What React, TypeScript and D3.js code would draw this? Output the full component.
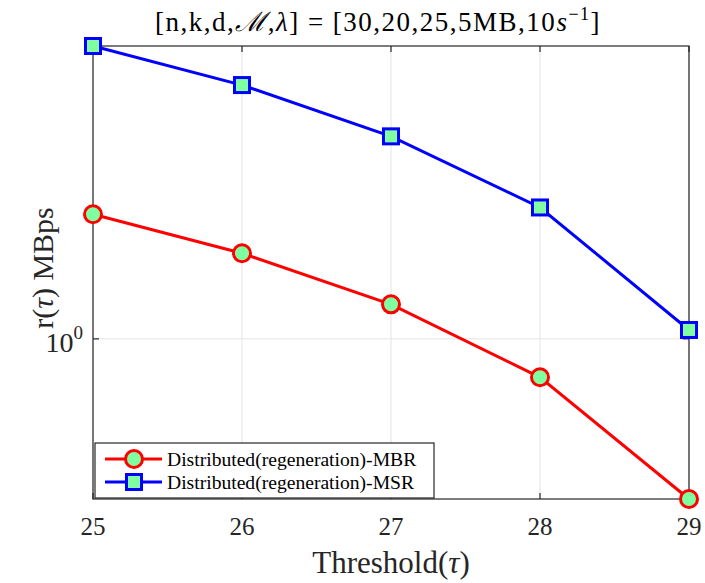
import React, { useEffect, useRef } from "react";
import * as d3 from "d3";

const thresholds = [25, 26, 27, 28, 29];
const mbr = [1.32, 1.21, 1.08, 0.918, 0.7];
const msr = [1.92, 1.76, 1.57, 1.34, 1.02];
const xTicks = [25, 26, 27, 28, 29];
const yTicks = [1];
const seriesNames = ["Distributed(regeneration)-MBR", "Distributed(regeneration)-MSR"];

const W = 705, H = 583;
const margin = { left: 93, right: 16, top: 46, bottom: 84 };
const FILL = "#80FFA0";
const FONT = "Times New Roman, serif";

export default function App() {
  const ref = useRef<SVGSVGElement>(null);

  useEffect(() => {
    const svg = d3.select(ref.current);
    svg.selectAll("*").remove();
    const x = d3.scaleLinear().domain([25, 29]).range([margin.left, W - margin.right]);
    const y = d3.scaleLog().domain([0.7, 1.92]).range([H - margin.bottom, margin.top]);
    const [x0, x1] = x.range();
    const [yb, yt] = y.range();

    svg.append("rect").attr("width", W).attr("height", H).attr("fill", "white");

    // grid
    const grid = svg.append("g").attr("stroke", "#e3e3e3").attr("stroke-width", 1);
    xTicks.forEach(t => grid.append("line").attr("x1", x(t)).attr("x2", x(t)).attr("y1", yb).attr("y2", yt));
    yTicks.forEach(t => grid.append("line").attr("x1", x0).attr("x2", x1).attr("y1", y(t)).attr("y2", y(t)));

    // box
    svg.append("rect").attr("x", x0).attr("y", yt).attr("width", x1 - x0).attr("height", yb - yt)
      .attr("fill", "none").attr("stroke", "#262626").attr("stroke-width", 1.2);

    const ax = svg.append("g").attr("stroke", "#262626").attr("stroke-width", 1.2);
    xTicks.forEach(t => {
      ax.append("line").attr("x1", x(t)).attr("x2", x(t)).attr("y1", yb).attr("y2", yb - 6);
      ax.append("line").attr("x1", x(t)).attr("x2", x(t)).attr("y1", yt).attr("y2", yt + 6);
    });
    yTicks.forEach(t => {
      ax.append("line").attr("x1", x0).attr("x2", x0 + 6).attr("y1", y(t)).attr("y2", y(t));
      ax.append("line").attr("x1", x1).attr("x2", x1 - 6).attr("y1", y(t)).attr("y2", y(t));
    });

    const txt = svg.append("g").attr("font-family", FONT).attr("fill", "#262626");
    xTicks.forEach(t => txt.append("text").attr("x", x(t)).attr("y", yb + 36)
      .attr("text-anchor", "middle").attr("font-size", 25).text(t));
    yTicks.forEach(t => {
      const tx = txt.append("text").attr("x", x0 - 10).attr("y", y(t) + 13)
        .attr("text-anchor", "end").attr("font-size", 28);
      tx.append("tspan").text("10");
      tx.append("tspan").attr("font-size", 19).attr("dy", -13).text("0");
    });

    const xl = txt.append("text").attr("x", (x0 + x1) / 2).attr("y", 573)
      .attr("text-anchor", "middle").attr("font-size", 31);
    xl.append("tspan").text("Threshold(");
    xl.append("tspan").attr("font-style", "italic").text("τ");
    xl.append("tspan").text(")");

    const yl = txt.append("text").attr("transform", `translate(53,268) rotate(-90)`)
      .attr("text-anchor", "middle").attr("font-size", 30);
    yl.append("tspan").text("r(");
    yl.append("tspan").attr("font-style", "italic").text("τ");
    yl.append("tspan").text(") MBps");

    const tl = txt.append("text").attr("x", 378).attr("y", 30.5).attr("text-anchor", "middle")
      .attr("font-size", 27).attr("letter-spacing", 1.5).attr("fill", "black");
    tl.append("tspan").text("[n,k,d,");
    tl.append("tspan").attr("font-style", "italic").text("ℳ");
    tl.append("tspan").text(",");
    tl.append("tspan").attr("font-style", "italic").text("λ");
    tl.append("tspan").text("] = [30,20,25,5MB,10");
    tl.append("tspan").attr("font-style", "italic").text("s");
    tl.append("tspan").attr("font-size", 18).attr("dy", -11).text("−1");
    tl.append("tspan").attr("dy", 11).text("]");

    const line = d3.line<number>().x((_, i) => x(thresholds[i])).y(d => y(d));
    const drawCircle = (g: any, cx: number, cy: number) =>
      g.append("circle").attr("cx", cx).attr("cy", cy).attr("r", 8.5)
        .attr("fill", FILL).attr("stroke", "#ff0000").attr("stroke-width", 3);
    const drawSquare = (g: any, cx: number, cy: number) =>
      g.append("rect").attr("x", cx - 7.5).attr("y", cy - 7.5).attr("width", 15).attr("height", 15)
        .attr("fill", FILL).attr("stroke", "#0000ff").attr("stroke-width", 3);

    const series = [
      { data: mbr, color: "#ff0000", marker: drawCircle },
      { data: msr, color: "#0000ff", marker: drawSquare },
    ];
    series.forEach(s => {
      svg.append("path").attr("d", line(s.data)).attr("fill", "none")
        .attr("stroke", s.color).attr("stroke-width", 3);
      const g = svg.append("g");
      s.data.forEach((d, i) => s.marker(g, x(thresholds[i]), y(d)));
    });

    // legend
    const lg = svg.append("g");
    lg.append("rect").attr("x", 95).attr("y", 443).attr("width", 339).attr("height", 55)
      .attr("fill", "white").attr("stroke", "#262626").attr("stroke-width", 1.2);
    series.forEach((s, i) => {
      const cy = 459 + i * 23;
      lg.append("line").attr("x1", 105).attr("x2", 162).attr("y1", cy).attr("y2", cy)
        .attr("stroke", s.color).attr("stroke-width", 3);
      s.marker(lg, 134, cy);
      lg.append("text").attr("x", 167).attr("y", cy + 6.5).attr("font-family", FONT)
        .attr("font-size", 19.6).attr("fill", "black").text(seriesNames[i]);
    });
  }, []);

  return <svg ref={ref} width={W} height={H} style={{ display: "block", position: "absolute", left: 0, top: 0 }} />;
}
